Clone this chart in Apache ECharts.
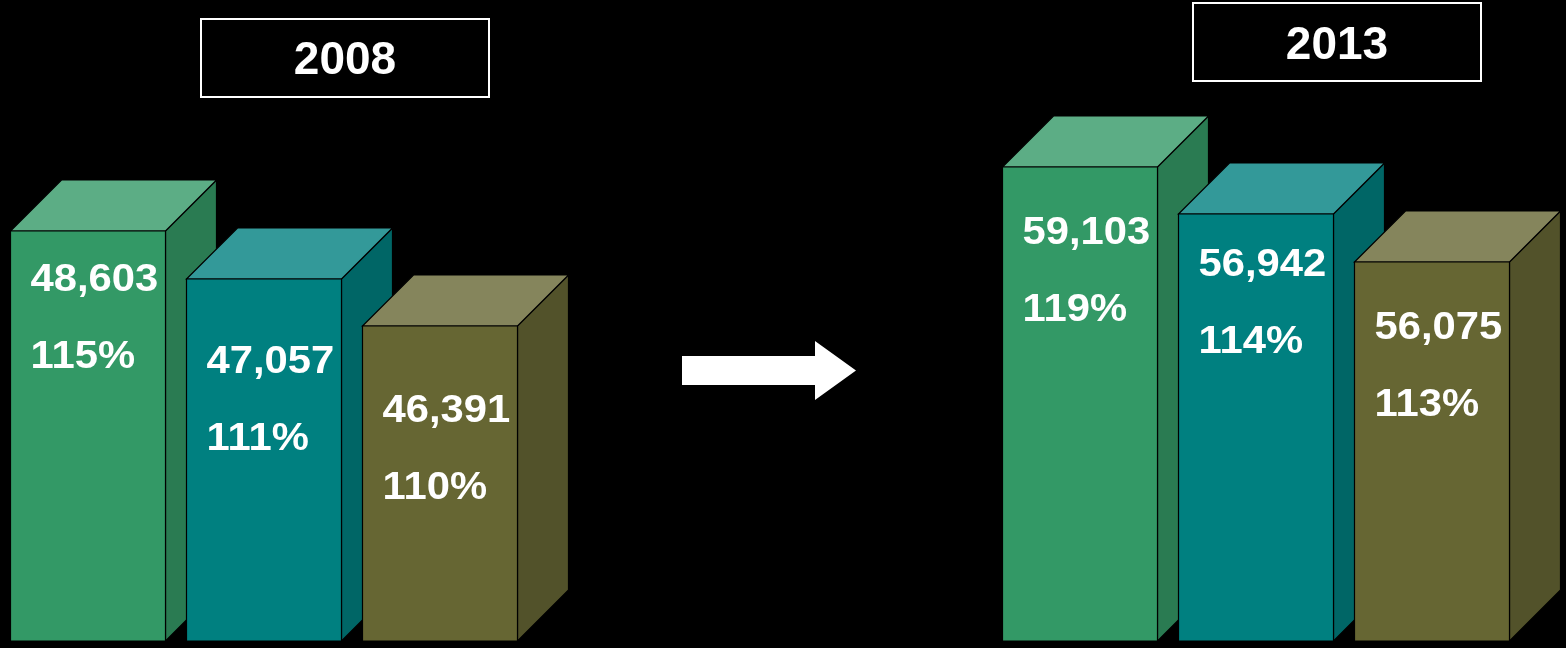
<!DOCTYPE html>
<html>
<head>
<meta charset="utf-8">
<script src="https://cdn.jsdelivr.net/npm/echarts@6/dist/echarts.min.js"></script>
<style>
html,body{margin:0;padding:0;background:#000;}
#chart{width:1566px;height:648px;}
</style>
</head>
<body>
<div id="chart"></div>
<script>
// ---- data ----
const years = ['2008', '2013'];
const categories = ['A', 'B', 'C'];
const values2008 = [48603, 47057, 46391];
const pct2008 = [115, 111, 110];
const values2013 = [59103, 56942, 56075];
const pct2013 = [119, 114, 113];
// bar heights as drawn in the source picture (the drawing is not proportional to the values)
const height2008 = [410, 362, 315];
const height2013 = [474, 427, 379];

// ---- styling ----
const FONT = '"Liberation Sans", Arial, sans-serif';
const faceColors = [
  { front: '#339966', top: '#5CAD85', side: '#2A7B52' },
  { front: '#008080', top: '#339999', side: '#006666' },
  { front: '#666633', top: '#85855C', side: '#52522A' }
];
const labelDrop = [[47, 81, 83], [64, 49, 64]];
const DEPTH = 51;

function fmt(v) { return v.toLocaleString('en-US'); }

function label(text, x, y) {
  return {
    type: 'text', x: x, y: y, scaleX: 1.1, scaleY: 1,
    style: { text: text, x: 0, y: 0, fill: '#fff', font: 'bold 38px ' + FONT,
      align: 'left', verticalAlign: 'middle' }
  };
}

function makeRender(groupIdx, values, pcts) {
  return function (params, api) {
    const i = params.dataIndex;
    const top = api.coord([i, api.value(1)]);
    const base = api.coord([i, 0]);
    const w = api.size([1, 0])[0] * 155 / 176;
    const x0 = top[0] - w / 2, x1 = top[0] + w / 2;
    const yT = top[1], yB = base[1];
    const d = DEPTH;
    const c = faceColors[i];
    const stroke = { stroke: '#000', lineWidth: 1.2 };
    const drop = labelDrop[groupIdx][i];
    return {
      type: 'group',
      children: [
        { type: 'polygon', shape: { points: [[x1, yT], [x1 + d, yT - d], [x1 + d, yB - d], [x1, yB]] },
          style: Object.assign({ fill: c.side }, stroke) },
        { type: 'polygon', shape: { points: [[x0, yT], [x0 + d, yT - d], [x1 + d, yT - d], [x1, yT]] },
          style: Object.assign({ fill: c.top }, stroke) },
        { type: 'rect', shape: { x: x0, y: yT, width: w, height: yB - yT },
          style: Object.assign({ fill: c.front }, stroke) },
        label(fmt(values[i]), x0 + 20, yT + drop + 3),
        label(pcts[i] + '%', x0 + 20, yT + drop + 80)
      ]
    };
  };
}

const chart = echarts.init(document.getElementById('chart'));
const hiddenX = (gi) => ({ type: 'category', gridIndex: gi, data: categories, show: false, boundaryGap: true });
const hiddenY = (gi) => ({ type: 'value', gridIndex: gi, min: 0, max: 641, show: false });

chart.setOption({
  backgroundColor: '#000',
  animation: false,
  grid: [
    { left: 0, top: 0, width: 528, height: 641 },
    { left: 992, top: 0, width: 528, height: 641 }
  ],
  xAxis: [hiddenX(0), hiddenX(1)],
  yAxis: [hiddenY(0), hiddenY(1)],
  series: [
    { type: 'custom', xAxisIndex: 0, yAxisIndex: 0, clip: false,
      renderItem: makeRender(0, values2008, pct2008),
      data: height2008.map((h, i) => [i, h]) },
    { type: 'custom', xAxisIndex: 1, yAxisIndex: 1, clip: false,
      renderItem: makeRender(1, values2013, pct2013),
      data: height2013.map((h, i) => [i, h]) }
  ],
  graphic: [
    { type: 'rect', shape: { x: 201, y: 19, width: 288, height: 78 },
      style: { fill: '#000', stroke: '#fff', lineWidth: 2 } },
    { type: 'text', style: { text: years[0], x: 345, y: 61, fill: '#fff',
        font: 'bold 46px ' + FONT, align: 'center', verticalAlign: 'middle' } },
    { type: 'rect', shape: { x: 1193, y: 3, width: 288, height: 78 },
      style: { fill: '#000', stroke: '#fff', lineWidth: 2 } },
    { type: 'text', style: { text: years[1], x: 1337, y: 46, fill: '#fff',
        font: 'bold 46px ' + FONT, align: 'center', verticalAlign: 'middle' } },
    { type: 'polygon', shape: { points: [[682, 356], [815, 356], [815, 341], [856, 370.5], [815, 400], [815, 385], [682, 385]] },
      style: { fill: '#fff' } }
  ]
});
</script>
</body>
</html>
